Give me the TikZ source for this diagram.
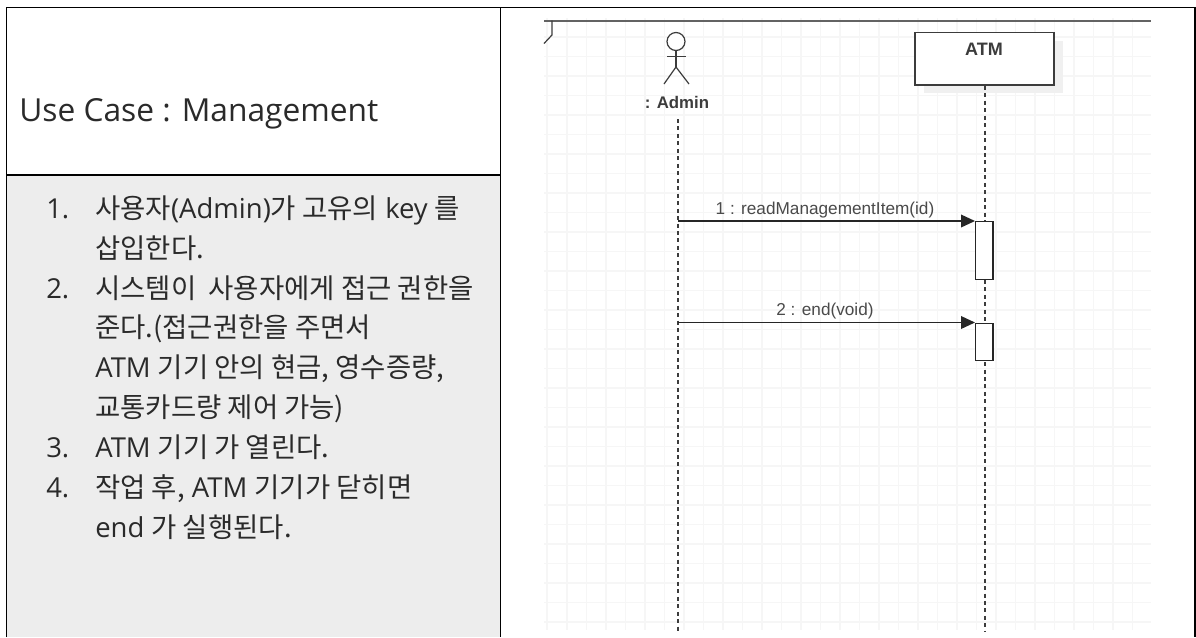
\documentclass[tikz,border=0pt]{standalone}
\usepackage{fontspec}
\setmainfont{Open Sans}
\newfontfamily\krf{Noto Sans CJK KR}
\newfontfamily\uml{Liberation Sans}
\newcommand{\K}[1]{{\krf #1}}
\usetikzlibrary{arrows.meta}
\definecolor{txt}{HTML}{2A2A2A}
\definecolor{umlline}{HTML}{3C3C3C}
\definecolor{umltxt}{HTML}{4A4A4A}
\definecolor{cellgray}{HTML}{EDEDED}
\definecolor{gridc}{HTML}{F6F6F6}
\definecolor{shadowc}{HTML}{F0F0F0}
\tikzset{
  x=0.75pt,y=-0.75pt,
  border/.style={black,line width=0.8pt},
  listline/.style={anchor=base west,inner sep=0pt,font=\fontsize{20.6pt}{23pt}\selectfont,text=txt},
  lifeline/.style={draw=umlline,line width=1pt,dash pattern=on 3pt off 2.6pt},
  msg/.style={draw=black!85,line width=1.1pt,-{Triangle[length=10.5pt,width=9.5pt]},shorten >=0pt},
  msglabel/.style={anchor=base,inner sep=0pt,font=\uml\fontsize{12.9pt}{15pt}\selectfont,text=umltxt},
  activation/.style={draw=black!85,fill=white,line width=1pt,inner sep=0pt,minimum width=13pt},
  actorline/.style={draw=umlline,line width=0.9pt},
}
\begin{document}
\begin{tikzpicture}
\useasboundingbox (0,0) rectangle (1196,637);
\fill[white] (0,0) rectangle (1196,637);
% left cell background
\fill[cellgray] (7,175) rectangle (500,637);
% grid
\foreach \gx in {547,567,586.5,606,625.5,645,664.5,684,703.5,723,742.5,762,781.5,801,820.5,840,859.5,879,898.5,918,937.5,957,976.5,996,1015.5,1035,1054.5,1074,1093.5,1113,1132.5}
  \draw[gridc,line width=0.8pt] (\gx,18) -- (\gx,630);
\foreach \gy in {37,56.5,76,95.5,115,134.5,154,173.5,193,212.5,232,251.5,271,290.5,310,329.5,349,368.5,388,407.5,427,446.5,466,485.5,505,524.5,544,563.5,583,602.5,622}
  \draw[gridc,line width=0.8pt] (544,\gy) -- (1151,\gy);
% table borders
\draw[border] (6.5,637) -- (6.5,7.5) -- (1195,7.5) -- (1195,637);
\draw[border] (500.5,7.5) -- (500.5,637);
\draw[border] (6.5,175) -- (500.5,175);
% title
\node[anchor=base west,inner sep=0pt,font=\fontsize{23.8pt}{27pt}\selectfont,text=txt] (title) at (19,121) {Use Case : Management};
% list
\node[listline] (n1) at (46,218) {1.};
\node[listline] (l1) at (95,218) {\K{사용자}(Admin)\K{가 고유의} key \K{를}};
\node[listline] (l1b) at (95,258) {\K{삽입한다.}};
\node[listline] (n2) at (46,298) {2.};
\node[listline] (l2) at (95,298) {\K{시스템이\ \ 사용자에게 접근 권한을}};
\node[listline] (l2b) at (95,337) {\K{준다.(접근권한을 주면서}};
\node[listline] (l2c) at (95,377) {ATM \K{기기 안의 현금, 영수증량,}};
\node[listline] (l2d) at (95,417) {\K{교통카드량 제어 가능)}};
\node[listline] (n3) at (46,457) {3.};
\node[listline] (l3) at (95,457) {ATM \K{기기 가 열린다.}};
\node[listline] (n4) at (46,497) {4.};
\node[listline] (l4) at (95,497) {\K{작업 후,} ATM \K{기기가 닫히면}};
\node[listline] (l4b) at (95,537) {end \K{가 실행된다.}};
% frame
\coordinate (frameL) at (544,20.5);
\coordinate (frameR) at (1151,20.5);
\draw[draw=umlline!80,line width=1.5pt] (frameL) -- (frameR);
\draw[draw=umlline,line width=0.9pt] (552,20.5) -- (552,35) -- (544,43.5);
% actor
\node[draw=umlline,line width=0.9pt,circle,fill=white,inner sep=0pt,minimum size=13.5pt] (head) at (676,41.5) {};
\coordinate (hip) at (676,67);
\draw[actorline] (head.south) -- (hip);
\draw[actorline] (667,56.5) -- (686,56.5);
\draw[actorline] (664,84) -- (hip) -- (689,84);
\node[anchor=base,inner sep=0pt,font=\uml\bfseries\fontsize{12.6pt}{15pt}\selectfont,text=umlline] (admin) at (677,108) {: Admin};
% ATM
\fill[shadowc] (924,41) rectangle (1063,93);
\node[draw=umlline,line width=1.2pt,fill=white,anchor=north west,inner sep=0pt,minimum width=104.5pt,minimum height=39.5pt] (atm) at (914,31.5) {};
\node[anchor=base,inner sep=0pt,font=\uml\bfseries\fontsize{13.5pt}{15pt}\selectfont,text=umlline] (atmlabel) at (984,55) {ATM};
% lifelines
\coordinate (adminTop) at (678,119);
\coordinate (adminEnd) at (678,631);
\coordinate (atmEnd) at (985,631);
\draw[lifeline] (adminTop) -- (adminEnd);
\draw[lifeline] (atm.south -| atmEnd) -- (atmEnd);
% activations
\node[activation,anchor=north west,minimum height=43.5pt] (act1) at (975,221) {};
\node[activation,anchor=north west,minimum height=28pt] (act2) at (975,322.5) {};
% messages
\coordinate (m1s) at (678,221);
\coordinate (m2s) at (678,322.5);
\draw[msg] (m1s) -- (act1.north west);
\draw[msg] (m2s) -- (act2.north west);
\node[msglabel] (m1l) at (825,214) {1 : readManagementItem(id)};
\node[msglabel] (m2l) at (825,315) {2 : end(void)};
\end{tikzpicture}
\end{document}
